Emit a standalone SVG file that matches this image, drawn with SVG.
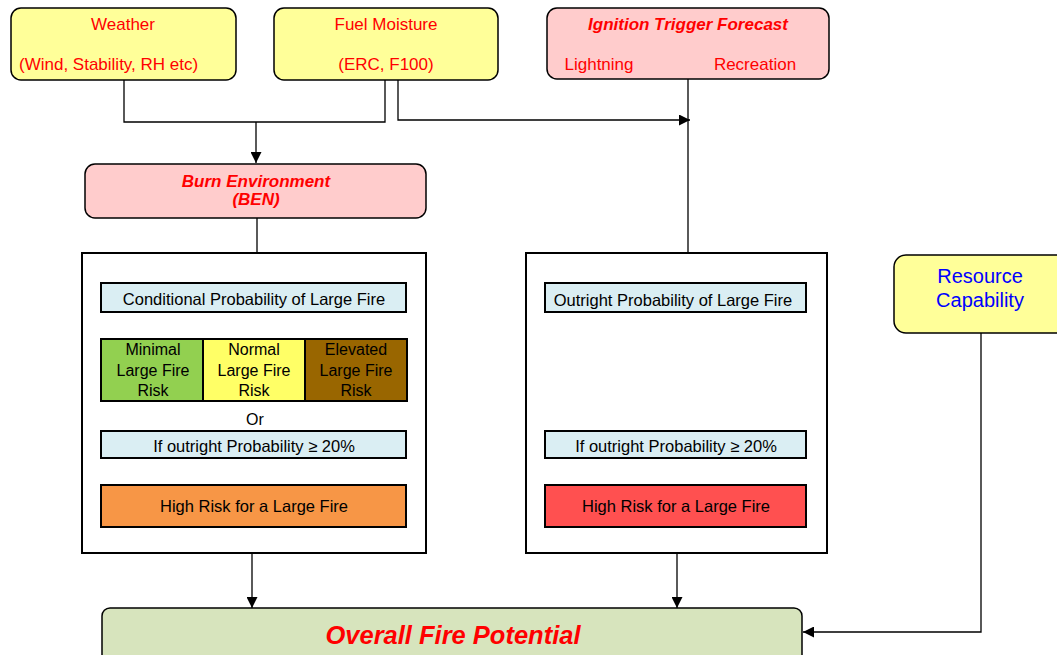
<svg xmlns="http://www.w3.org/2000/svg" width="1057" height="655" viewBox="0 0 1057 655">
<style>
text{font-family:"Liberation Sans",Arial,sans-serif;text-anchor:middle}
.red{fill:#FF0000;font-size:17px}
.bi{fill:#FF0000;font-weight:bold;font-style:italic}
.blk{fill:#000;font-size:16.5px}
.risk{fill:#000;font-size:16px}
.node{stroke:#000;stroke-width:1.5}
.box{stroke:#000;stroke-width:2}
.conn{fill:none;stroke:#000;stroke-width:1.3}
</style>
<defs>
<marker id="ah" viewBox="0 0 10 10" refX="10" refY="5" markerWidth="11" markerHeight="11" markerUnits="userSpaceOnUse" orient="auto"><path d="M0,0 L10,5 L0,10 z" fill="#000"/></marker>
</defs>
<rect width="1057" height="655" fill="#fff"/>
<g id="connectors">
<path class="conn" d="M124,80 V122 H385 V80"/>
<path class="conn" d="M256,122 V163" marker-end="url(#ah)"/>
<path class="conn" d="M398,80 V120 H690" marker-end="url(#ah)"/>
<path class="conn" d="M688,79 V253"/>
<path class="conn" d="M257,218 V253"/>
<path class="conn" d="M257,312 V339" marker-end="url(#ah)"/>
<path class="conn" d="M252,458 V484" marker-end="url(#ah)"/>
<path class="conn" d="M672,458 V484" marker-end="url(#ah)"/>
<path class="conn" d="M252,553 V608" marker-end="url(#ah)"/>
<path class="conn" d="M677,553 V608" marker-end="url(#ah)"/>
<path class="conn" d="M981,333 V632 H803" marker-end="url(#ah)"/>
</g>
<g id="weather">
<rect class="node" x="11" y="8" width="225" height="72" rx="10" fill="#FFFF99"/>
<text class="red" x="123" y="30">Weather</text>
<text class="red" x="19" y="70" style="text-anchor:start">(Wind, Stability, RH etc)</text>
</g>
<g id="fuel">
<rect class="node" x="274" y="8" width="224" height="72" rx="10" fill="#FFFF99"/>
<text class="red" x="386" y="30">Fuel Moisture</text>
<text class="red" x="386" y="70">(ERC,  F100)</text>
</g>
<g id="ignition">
<rect class="node" x="547" y="8" width="282" height="71" rx="10" fill="#FFCCCC"/>
<text class="bi" x="688" y="30" font-size="17">Ignition Trigger Forecast</text>
<text class="red" x="599" y="70">Lightning</text>
<text class="red" x="755" y="70">Recreation</text>
</g>
<g id="burn">
<rect class="node" x="85" y="164" width="341" height="54" rx="10" fill="#FFCCCC"/>
<text class="bi" x="256" y="187" font-size="17">Burn Environment</text>
<text class="bi" x="256" y="205" font-size="17">(BEN)</text>
</g>
<g id="leftPanel">
<rect class="box" x="82" y="253" width="344" height="300" fill="#fff"/>
<rect class="box" x="101" y="283" width="305" height="29" fill="#DAEEF3"/>
<text class="blk" x="254" y="305">Conditional Probability of Large Fire</text>
<rect class="box" x="101" y="339" width="102" height="62" fill="#92D050"/>
<rect class="box" x="203" y="339" width="102" height="62" fill="#FFFF66"/>
<rect class="box" x="305" y="339" width="102" height="62" fill="#996600"/>
<text class="risk" x="153" y="355">Minimal</text>
<text class="risk" x="153" y="376">Large Fire</text>
<text class="risk" x="153" y="396">Risk</text>
<text class="risk" x="254" y="355">Normal</text>
<text class="risk" x="254" y="376">Large Fire</text>
<text class="risk" x="254" y="396">Risk</text>
<text class="risk" x="356" y="355">Elevated</text>
<text class="risk" x="356" y="376">Large Fire</text>
<text class="risk" x="356" y="396">Risk</text>
<text class="risk" x="255" y="425">Or</text>
<rect class="box" x="101" y="431" width="305" height="27" fill="#DAEEF3"/>
<text class="blk" x="254" y="452">If outright Probability ≥ 20%</text>
<rect class="box" x="101" y="485" width="305" height="42" fill="#F79646"/>
<text class="blk" x="254" y="512">High Risk for a Large Fire</text>
</g>
<g id="rightPanel">
<rect class="box" x="526" y="253" width="301" height="300" fill="#fff"/>
<rect class="box" x="545" y="283" width="261" height="29" fill="#DAEEF3"/>
<text class="blk" x="673" y="306">Outright Probability of Large Fire</text>
<rect class="box" x="545" y="431" width="261" height="27" fill="#DAEEF3"/>
<text class="blk" x="676" y="452">If outright Probability ≥ 20%</text>
<rect class="box" x="545" y="485" width="261" height="42" fill="#FF5050"/>
<text class="blk" x="676" y="512">High Risk for a Large Fire</text>
</g>
<g id="resource">
<rect class="node" x="894" y="255" width="175" height="78" rx="12" fill="#FFFF99"/>
<text x="980" y="283" font-size="20" fill="#0000FF">Resource</text>
<text x="980" y="307" font-size="20" fill="#0000FF">Capability</text>
</g>
<g id="overall">
<rect class="node" x="102" y="608" width="700" height="60" rx="8" fill="#D7E4BD"/>
<text class="bi" x="453" y="644" font-size="25.5">Overall Fire Potential</text>
</g>
</svg>
